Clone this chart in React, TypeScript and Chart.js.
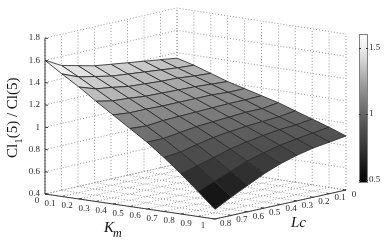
import React, { useEffect, useRef } from "react";
import { Chart, registerables } from "chart.js";

Chart.register(...registerables);

const kmValues = [0, 0.1, 0.2, 0.3, 0.4, 0.5, 0.6, 0.7, 0.8, 0.9, 1];
const lcValues = [0, 0.1, 0.2, 0.3, 0.4, 0.5, 0.6, 0.7, 0.8];
const zTicks = [0.4, 0.6, 0.8, 1, 1.2, 1.4, 1.6, 1.8];
const colorTicks = [0.5, 1, 1.5];
const colorLevels = [0.477, 0.6, 0.75, 1, 1.2, 1.35, 1.5, 1.606];
const colorGrays = [0, 24, 54, 100, 150, 194, 238, 254];

const zLc00 = [1.35, 1.31, 1.26, 1.21, 1.17, 1.13, 1.09, 1.04, 0.99, 0.94, 0.885];
const zLc01 = [1.37, 1.32, 1.27, 1.22, 1.17, 1.125, 1.07, 1.02, 0.97, 0.92, 0.863];
const zLc02 = [1.39, 1.335, 1.285, 1.23, 1.18, 1.125, 1.07, 1.01, 0.96, 0.9, 0.842];
const zLc03 = [1.41, 1.35, 1.29, 1.235, 1.18, 1.12, 1.06, 1.0, 0.94, 0.875, 0.809];
const zLc04 = [1.43, 1.365, 1.3, 1.24, 1.18, 1.115, 1.05, 0.985, 0.915, 0.84, 0.766];
const zLc05 = [1.45, 1.38, 1.31, 1.245, 1.18, 1.11, 1.04, 0.965, 0.885, 0.8, 0.709];
const zLc06 = [1.485, 1.41, 1.335, 1.26, 1.185, 1.105, 1.02, 0.935, 0.84, 0.74, 0.637];
const zLc07 = [1.52, 1.44, 1.355, 1.27, 1.185, 1.09, 1.0, 0.9, 0.8, 0.685, 0.565];
const zLc08 = [1.6, 1.5, 1.405, 1.3, 1.2, 1.1, 1.0, 0.885, 0.76, 0.625, 0.487];
const surface = [zLc00, zLc01, zLc02, zLc03, zLc04, zLc05, zLc06, zLc07, zLc08];

const kmMax = 1;
const lcMax = 0.8;
const zMin = 0.4;
const zMax = 1.8;
const cMin = 0.477;
const cMax = 1.606;

// Oblique view of the 3D box onto the flat x / y scales of the chart
const cLeft = { x: 45, y: 194 };
const cFront = { x: 215, y: 219 };
const cRight = { x: 346, y: 190 };
const cBack = { x: 177, y: 164 };
const zScale = 111.4;

function project(km: number, lc: number, z: number) {
  const u = km / kmMax;
  const v = lc / lcMax;
  const w = (1 - u) * v, a = u * v, b = u * (1 - v), c = (1 - u) * (1 - v);
  const x = w * cLeft.x + a * cFront.x + b * cRight.x + c * cBack.x;
  const y = w * cLeft.y + a * cFront.y + b * cRight.y + c * cBack.y;
  return { x, y: y - (z - zMin) * zScale };
}

function gray(z: number) {
  let g = colorGrays[colorGrays.length - 1];
  if (z <= colorLevels[0]) g = colorGrays[0];
  else {
    for (let i = 1; i < colorLevels.length; i++) {
      if (z <= colorLevels[i]) {
        const t = (z - colorLevels[i - 1]) / (colorLevels[i] - colorLevels[i - 1]);
        g = colorGrays[i - 1] + t * (colorGrays[i] - colorGrays[i - 1]);
        break;
      }
    }
  }
  const v = Math.round(g);
  return `rgb(${v},${v},${v})`;
}

const SERIF = '"Liberation Serif", "Times New Roman", serif';

function buildDatasets() {
  const ds: any[] = [];
  const add = (pts: { x: number; y: number }[], o: any) => {
    ds.push({
      data: pts,
      pointRadius: 0,
      tension: 0,
      fill: false,
      clip: false,
      order: -ds.length,
      ...o,
    });
  };
  const wall = { borderColor: "#9a9a9a", borderWidth: 1, borderDash: [1, 2] };
  const axis = { borderColor: "#3a3a3a", borderWidth: 1 };

  // back walls: horizontal z lines
  zTicks.forEach((z) =>
    add([project(0, lcMax, z), project(0, 0, z), project(kmMax, 0, z)], wall)
  );
  lcValues.forEach((lc) =>
    add([project(0, lc, zMin), project(0, lc, zMax)], wall)
  );
  kmValues.forEach((km) =>
    add([project(km, 0, zMin), project(km, 0, zMax)], wall)
  );
  // floor
  kmValues.forEach((km) =>
    add([project(km, 0, zMin), project(km, lcMax, zMin)], wall)
  );
  lcValues.forEach((lc) =>
    add([project(0, lc, zMin), project(kmMax, lc, zMin)], wall)
  );
  // axes
  add([project(0, lcMax, zMin), project(0, lcMax, zMax)], axis);
  add([project(0, lcMax, zMin), project(kmMax, lcMax, zMin)], axis);
  add([project(kmMax, lcMax, zMin), project(kmMax, 0, zMin)], axis);
  zTicks.forEach((z) =>
    add([project(0, lcMax, z), project(0.018, lcMax, z)], axis)
  );
  kmValues.forEach((km) =>
    add([project(km, lcMax, zMin), project(km, lcMax - 0.016, zMin)], axis)
  );
  lcValues.forEach((lc) =>
    add([project(kmMax, lc, zMin), project(kmMax - 0.018, lc, zMin)], axis)
  );

  // surface cells, back to front
  for (let j = 0; j < lcValues.length - 1; j++) {
    for (let i = 0; i < kmValues.length - 1; i++) {
      const z00 = surface[j][i];
      const z10 = surface[j][i + 1];
      const z11 = surface[j + 1][i + 1];
      const z01 = surface[j + 1][i];
      const p0 = project(kmValues[i], lcValues[j], z00);
      const p1 = project(kmValues[i + 1], lcValues[j], z10);
      const p2 = project(kmValues[i + 1], lcValues[j + 1], z11);
      const p3 = project(kmValues[i], lcValues[j + 1], z01);
      add([p0, p1, p2, p3, p0], {
        fill: "shape",
        backgroundColor: gray((z00 + z10 + z11 + z01) / 4),
        borderColor: "#2c2c2c",
        borderWidth: 0.85,
        borderJoinStyle: "round",
      });
    }
  }
  return ds;
}

const labelsPlugin = {
  id: "labels3d",
  afterDraw(chart: any) {
    const { ctx, scales } = chart;
    const sx = (v: number) => scales.x.getPixelForValue(v);
    const sy = (v: number) => scales.y.getPixelForValue(v);
    ctx.save();
    ctx.fillStyle = "#2a2a2a";
    ctx.font = `9px ${SERIF}`;
    ctx.textBaseline = "middle";

    ctx.textAlign = "right";
    zTicks.forEach((z) => {
      const p = project(0, lcMax, z);
      ctx.fillText(String(z), sx(p.x) - 5, sy(p.y));
    });

    ctx.textAlign = "center";
    kmValues.forEach((km) => {
      const p = project(km, lcMax, zMin);
      const dx = km === 0 ? -8 : -12;
      ctx.fillText(String(km), sx(p.x) + dx, sy(p.y) + 7);
    });
    lcValues.forEach((lc) => {
      const p = project(kmMax, lc, zMin);
      const dx = lc === 0 ? 8 : 10.5;
      ctx.fillText(String(lc), sx(p.x) + dx, sy(p.y) + 4.5);
    });

    ctx.textAlign = "left";
    ctx.textBaseline = "alphabetic";
    ctx.fillStyle = "#111";
    ctx.font = `italic 15px ${SERIF}`;
    ctx.fillText("K", 104, 232);
    ctx.font = `italic 12px ${SERIF}`;
    ctx.fillText("m", 113, 237);
    ctx.font = `italic 15px ${SERIF}`;
    ctx.fillText("Lc", 291, 227);

    ctx.translate(17, 158);
    ctx.rotate(-Math.PI / 2);
    ctx.font = `15px ${SERIF}`;
    let cx = 0;
    ctx.fillText("Cl", cx, 0);
    cx += ctx.measureText("Cl").width;
    ctx.font = `11px ${SERIF}`;
    ctx.fillText("1", cx, 5);
    cx += ctx.measureText("1").width;
    ctx.font = `15px ${SERIF}`;
    ctx.fillText("(5) / Cl(5)", cx, 0);
    ctx.restore();
  },
};

const barFramePlugin = {
  id: "barFrame",
  afterDatasetsDraw(chart: any) {
    const { ctx, chartArea, scales } = chart;
    ctx.save();
    ctx.strokeStyle = "#808080";
    ctx.lineWidth = 1;
    ctx.strokeRect(
      chartArea.left + 0.5,
      chartArea.top + 0.5,
      chartArea.right - chartArea.left - 1,
      chartArea.bottom - chartArea.top - 1
    );
    ctx.strokeStyle = "#333";
    colorTicks.forEach((t) => {
      const y = Math.round(scales.y.getPixelForValue(t)) + 0.5;
      ctx.beginPath();
      ctx.moveTo(chartArea.left, y);
      ctx.lineTo(chartArea.left + 2, y);
      ctx.moveTo(chartArea.right - 2, y);
      ctx.lineTo(chartArea.right, y);
      ctx.stroke();
    });
    ctx.restore();
  },
};

export default function App() {
  const mainRef = useRef<HTMLCanvasElement>(null);
  const barRef = useRef<HTMLCanvasElement>(null);

  useEffect(() => {
    document.body.style.margin = "0";
    document.body.style.background = "#fff";
    const main = new Chart(mainRef.current!, {
      type: "line",
      data: { datasets: buildDatasets() },
      options: {
        animation: false,
        responsive: false,
        parsing: false,
        normalized: false,
        layout: { padding: 0 },
        plugins: { legend: { display: false }, tooltip: { enabled: false } },
        scales: {
          x: { type: "linear", display: false, min: 0, max: 386 },
          y: { type: "linear", display: false, min: 0, max: 245, reverse: true },
        },
      } as any,
      plugins: [labelsPlugin],
    });

    const bar = new Chart(barRef.current!, {
      type: "bar",
      data: {
        labels: ["c"],
        datasets: [
          {
            data: [[cMin, cMax]],
            barPercentage: 1,
            categoryPercentage: 1,
            backgroundColor: (c: any) => {
              const area = c.chart.chartArea;
              if (!area) return "#888";
              const g = c.chart.ctx.createLinearGradient(0, area.bottom, 0, area.top);
              colorLevels.forEach((lv) => {
                g.addColorStop((lv - cMin) / (cMax - cMin), gray(lv));
              });
              return g;
            },
          },
        ] as any,
      },
      options: {
        animation: false,
        responsive: false,
        layout: { padding: { top: 34, bottom: 62, left: 0, right: 0 } },
        plugins: { legend: { display: false }, tooltip: { enabled: false } },
        scales: {
          x: { display: false },
          y: {
            position: "right",
            min: cMin,
            max: cMax,
            grid: { display: false, drawTicks: false, tickLength: 0 },
            border: { display: false },
            afterBuildTicks: (s: any) => {
              s.ticks = colorTicks.map((value) => ({ value }));
            },
            afterFit: (s: any) => {
              s.width = 18;
            },
            ticks: {
              autoSkip: false,
              padding: 1,
              color: "#2a2a2a",
              font: { family: SERIF, size: 9 },
              callback: (v: any) => String(v),
            },
          },
        },
      } as any,
      plugins: [barFramePlugin],
    });
    return () => {
      main.destroy();
      bar.destroy();
    };
  }, []);

  return (
    <div style={{ position: "relative", width: 386, height: 245, background: "#fff" }}>
      <canvas
        ref={mainRef}
        width={386}
        height={245}
        style={{ position: "absolute", left: 0, top: 0, width: 386, height: 245 }}
      />
      <canvas
        ref={barRef}
        width={27}
        height={245}
        style={{ position: "absolute", left: 359, top: 0, width: 27, height: 245 }}
      />
    </div>
  );
}
